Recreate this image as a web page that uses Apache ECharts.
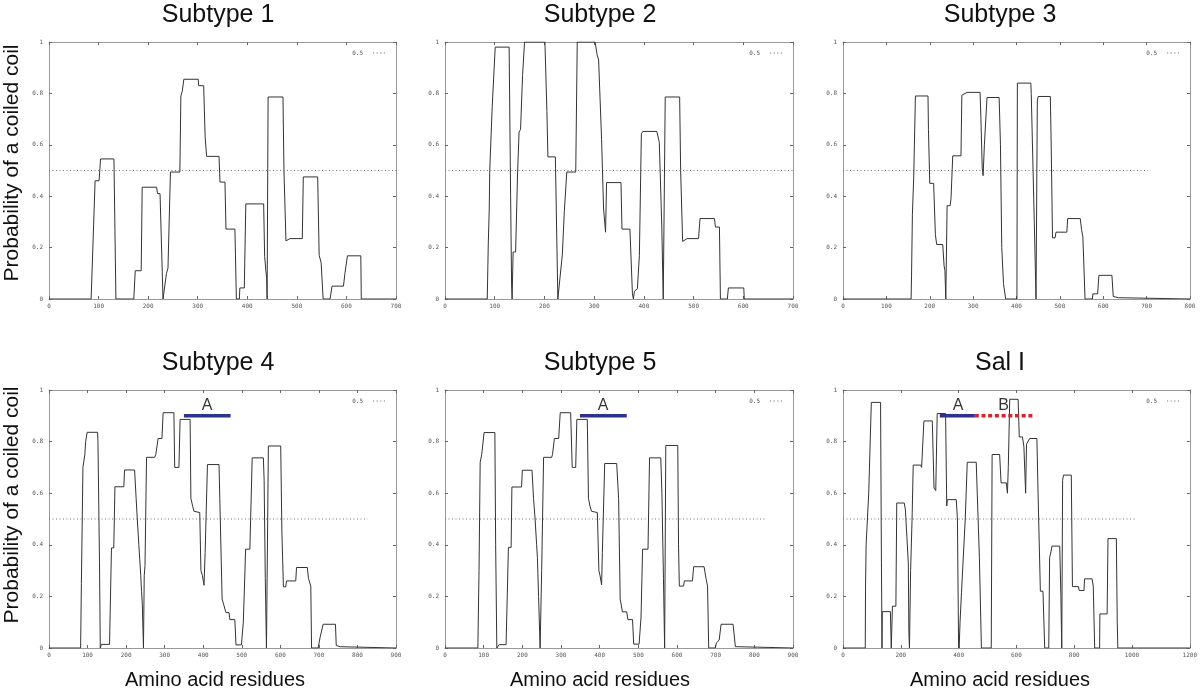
<!DOCTYPE html>
<html><head><meta charset="utf-8">
<script src="https://cdn.jsdelivr.net/npm/echarts@6/dist/echarts.min.js"></script>
<style>html,body{margin:0;padding:0;background:#fff}#c{width:1200px;height:692px}</style>
</head><body><div id="c"></div>
<script>
// ---------- data ----------
const panelTitles = ['Subtype 1', 'Subtype 2', 'Subtype 3', 'Subtype 4', 'Subtype 5', 'Sal I'];
const xAxisMax = [700, 700, 800, 900, 900, 1200];
const xAxisStep = [100, 100, 100, 100, 100, 200];
const yAxisTicks = [0, 0.2, 0.4, 0.6, 0.8, 1];
const xAxisTitle = 'Amino acid residues';
const yAxisTitle = 'Probability of a coiled coil';
const thresholdName = '0.5';
const thresholdValue = 0.5;
const thresholdEnd = [700, 700, 703, 827, 832, 1017];

const sub1Profile = [[0,0],[85,0],[93,0.46],[101,0.46],[104,0.545],[131,0.545],[135,0],
 [171,0],[174,0.11],[186,0.11],[188,0.435],[217,0.435],[219,0.41],[224,0.41],[230,0],
 [234,0],[237,0.1],[240,0.12],[245,0.494],[264,0.494],[266,0.79],[269,0.81],[272,0.855],[301,0.855],[302,0.83],[312,0.83],[315,0.63],[318,0.555],[343,0.555],[345,0.455],[355,0.455],[357,0.272],[375,0.272],[378,0],
 [384,0],[385,0.043],[394,0.043],[397,0.37],[433,0.37],[435,0.166],[439,0.08],[440,0],[442,0.786],[472,0.786],[474,0.5],[478,0.226],[486,0.235],[511,0.235],[513,0.475],[542,0.475],[545,0.17],[549,0.141],[553,0],
 [567,0],[571,0.05],[594,0.05],[597,0.1],[602,0.168],[629,0.168],[630,0],[700,0]];

const sub2Profile = [[0,0],[85,0],[87,0.21],[89,0.35],[90,0.5],[95,0.75],[101,0.98],[129,0.98],[132,0.4],[134,0.05],[135,0],[137,0.183],[142,0.183],[146,0.49],[149,0.65],[152,0.66],[156,0.87],[160,1],[201,1],[205,0.73],[207,0.553],[222,0.553],[227,0],
 [230,0],[236,0.172],[240,0.34],[245,0.494],[263,0.494],[266,1],[302,1],[306,0.95],[309,0.93],[315,0.62],[319,0.35],[323,0.26],[325,0.453],[354,0.453],[356,0.272],[372,0.272],[377,0.02],[379,0],
 [381,0.03],[387,0.04],[391,0.17],[395,0.643],[398,0.652],[426,0.652],[431,0.61],[436,0.288],[439,0],[443,0.786],[472,0.786],[474,0.5],[478,0.224],[487,0.235],[510,0.235],[513,0.313],[542,0.313],[544,0.28],[552,0.28],[554,0],
 [568,0],[570,0.043],[601,0.043],[602,0],[700,0]];

const sub3Profile = [[0,0],[157,0],[158,0.09],[160,0.33],[163,0.47],[167,0.79],[196,0.79],[197,0.66],[200,0.45],[209,0.45],[213,0.25],[216,0.212],[230,0.212],[233,0.13],[235,0.11],[237,0],
 [240,0.363],[247,0.363],[249,0.39],[253,0.557],[272,0.557],[274,0.793],[286,0.804],[316,0.804],[318,0.7],[321,0.51],[323,0.48],[326,0.6],[332,0.784],[360,0.784],[363,0.6],[366,0.2],[370,0.06],[375,0],
 [401,0],[402,0.84],[433,0.84],[434,0.8],[441,0.3],[445,0],[448,0.77],[450,0.788],[478,0.788],[480,0.6],[483,0.238],[489,0.238],[491,0.26],[516,0.26],[518,0.313],[547,0.313],[550,0.27],[553,0.242],[558,0],
 [575,0],[576,0.02],[587,0.02],[590,0.092],[620,0.092],[623,0.01],[626,0.005],[635,0.005],[636,0],[800,0]];

const sub4Profile = [[0,0],[82,0],[84,0.25],[88,0.7],[93,0.75],[95,0.8],[99,0.836],[126,0.836],[127,0.8],[131,0.33],[133,0],[136,0.014],[157,0.014],[162,0.388],[168,0.388],[171,0.625],[194,0.625],[196,0.69],[222,0.69],[226,0.58],[229,0.5],[233,0.4],[238,0.28],[240,0.22],[242,0.17],[245,0],
 [247,0.28],[249,0.32],[253,0.739],[274,0.739],[277,0.75],[283,0.812],[293,0.812],[296,0.912],[324,0.912],[326,0.7],[337,0.7],[340,0.886],[366,0.886],[368,0.58],[372,0.554],[376,0.53],[380,0.525],[391,0.525],[394,0.3],[398,0.28],[402,0.243],
 [405,0.37],[409,0.6],[411,0.711],[441,0.711],[443,0.58],[449,0.19],[459,0.137],[467,0.137],[469,0.11],[482,0.11],[485,0.012],[499,0.012],[504,0.1],[510,0.383],[521,0.383],[527,0.737],[556,0.737],[558,0.65],[561,0.27],[564,0],
 [569,0.783],[601,0.783],[604,0.45],[608,0.237],[614,0.237],[616,0.26],[640,0.26],[642,0.312],[670,0.312],[673,0.27],[679,0.24],[681,0],
 [698,0],[703,0.04],[711,0.092],[743,0.092],[745,0.01],[755,0.005],[756,0],[900,0]];

const sub5Profile = [[0,0],[85,0],[88,0.3],[91,0.72],[95,0.75],[101,0.835],[129,0.835],[131,0.4],[134,0],[140,0.013],[158,0.013],[164,0.39],[171,0.39],[173,0.624],[198,0.624],[200,0.689],[225,0.689],[229,0.58],[233,0.5],[237,0.4],[239,0.35],[242,0.2],[246,0],
 [250,0.3],[255,0.739],[276,0.739],[278,0.75],[283,0.812],[294,0.812],[298,0.912],[325,0.912],[329,0.7],[338,0.7],[341,0.886],[368,0.886],[371,0.58],[375,0.55],[379,0.53],[382,0.525],[394,0.525],[398,0.3],[401,0.28],[405,0.245],
 [407,0.37],[411,0.6],[413,0.715],[444,0.715],[449,0.58],[453,0.19],[459,0.14],[470,0.14],[473,0.11],[485,0.11],[488,0.015],[502,0.015],[507,0.12],[511,0.383],[525,0.383],[529,0.737],[558,0.737],[561,0.6],[565,0.27],[568,0],
 [571,0.785],[602,0.785],[604,0.4],[606,0.24],[617,0.24],[619,0.26],[640,0.26],[643,0.315],[670,0.315],[675,0.27],[679,0.24],[682,0],
 [699,0],[702,0.02],[709,0.03],[714,0.092],[745,0.092],[751,0.005],[758,0.005],[759,0],[900,0]];

const salProfile = [[0,0],[77,0],[78,0.24],[80,0.4],[89,0.6],[98,0.952],[130,0.952],[133,0.33],[135,0],[136,0.141],[164,0.141],[167,0],[171,0.162],[183,0.162],[186,0.562],[212,0.562],[216,0.535],[222,0.53],[226,0.33],[228,0.06],[230,0],
 [234,0.3],[239,0.5],[243,0.709],[269,0.709],[272,0.7],[280,0.88],[309,0.88],[315,0.62],[321,0.61],[326,0.909],[355,0.909],[359,0.55],[361,0.575],[392,0.575],[396,0.5],[400,0.01],[402,0],
 [405,0.1],[410,0.214],[415,0.22],[423,0.5],[430,0.72],[461,0.72],[472,0.35],[479,0],
 [513,0],[516,0.75],[542,0.75],[547,0.64],[565,0.64],[569,0.6],[572,0.7],[577,0.964],[606,0.964],[610,0.818],[621,0.818],[626,0.78],[632,0.6],[635,0.79],[646,0.812],[671,0.812],[675,0.6],[683,0.22],[692,0.22],[698,0],
 [712,0],[715,0.35],[721,0.38],[723,0.395],[750,0.395],[754,0.2],[757,0],[760,0.65],[763,0.67],[790,0.67],[794,0.238],[815,0.238],[817,0.223],[834,0.223],[836,0.268],[862,0.268],[866,0.24],[871,0],
 [888,0],[889,0.132],[914,0.132],[917,0.424],[946,0.424],[949,0.1],[951,0],[1200,0]];

// annotated regions (residue ranges) and their plotted level
const sub4RegionA = [350, 471];
const sub5RegionA = [349, 470];
const salRegionA = [335, 456];
const salRegionB = [456, 658];
const regionLevel = 0.9;
const regionLabelLevel = 0.94;
const sub4LabelsX = [410];
const sub5LabelsX = [409];
const salLabelsX = [398, 556];

// ---------- layout / style ----------
const profiles = [sub1Profile, sub2Profile, sub3Profile, sub4Profile, sub5Profile, salProfile];
const gridBoxes = [
  {left: 49, top: 42, width: 347, height: 257},
  {left: 445, top: 42, width: 348, height: 257},
  {left: 843, top: 42, width: 347, height: 257},
  {left: 49, top: 390, width: 347, height: 258},
  {left: 445, top: 390, width: 348, height: 258},
  {left: 843, top: 390, width: 347, height: 258}
];
const titlePos = [[218, 15], [600, 15], [1000, 15], [218, 363], [600, 363], [1000, 363]];
const FONT = '"Liberation Sans", Arial, Helvetica, sans-serif';
const TICKFONT = '"DejaVu Sans Mono", monospace';
const frameColor = '#999';
const tickColor = '#666';
const curveColor = '#333';
const dotColor = '#777';
const blue = '#2e3192';
const red = '#d8232a';
const dottedIcon = 'path://M0 0H1V1H0Z M3 0H4V1H3Z M6 0H7V1H6Z M9 0H10V1H9Z';

const grid = [], xAxis = [], yAxis = [], series = [], legend = [], graphic = [];
const plainNum = v => String(v);

profiles.forEach((prof, i) => {
  grid.push(Object.assign({containLabel: false, show: false}, gridBoxes[i]));
  const common = {
    type: 'value', gridIndex: i, splitLine: {show: false},
    axisLine: {show: true, onZero: false, lineStyle: {color: frameColor, width: 1}},
    axisTick: {show: true, inside: true, length: 3, lineStyle: {color: tickColor}}
  };
  xAxis.push(Object.assign({}, common, {
    position: 'bottom', min: 0, max: xAxisMax[i], interval: xAxisStep[i],
    axisLabel: {show: true, fontSize: 6, color: '#555', fontFamily: TICKFONT, margin: 4, formatter: plainNum}
  }));
  xAxis.push(Object.assign({}, common, {
    position: 'top', min: 0, max: xAxisMax[i], interval: xAxisStep[i], axisLabel: {show: false}
  }));
  yAxis.push(Object.assign({}, common, {
    position: 'left', min: yAxisTicks[0], max: yAxisTicks[yAxisTicks.length - 1], interval: yAxisTicks[1] - yAxisTicks[0],
    axisLabel: {show: true, fontSize: 6, color: '#555', fontFamily: TICKFONT, margin: 6, formatter: plainNum}
  }));
  yAxis.push(Object.assign({}, common, {
    position: 'right', min: yAxisTicks[0], max: yAxisTicks[yAxisTicks.length - 1], interval: yAxisTicks[1] - yAxisTicks[0],
    axisLabel: {show: false}
  }));

  series.push({
    type: 'line', xAxisIndex: 2 * i, yAxisIndex: 2 * i, data: prof,
    symbol: 'none', silent: true, z: 3,
    itemStyle: {color: curveColor},
    lineStyle: {color: curveColor, width: 1}
  });
  series.push({
    name: thresholdName, type: 'line', xAxisIndex: 2 * i, yAxisIndex: 2 * i,
    data: [[0, thresholdValue], [thresholdEnd[i], thresholdValue]],
    symbol: 'none', silent: true, z: 2,
    itemStyle: {color: dotColor},
    lineStyle: {color: dotColor, width: 1, type: [1, 2.5]}
  });

  const b = gridBoxes[i];
  legend.push({
    data: [{name: thresholdName, icon: dottedIcon}], right: 1200 - (b.left + b.width) + 6, top: b.top + 3,
    align: 'right', itemWidth: 12, itemHeight: 1.2, selectedMode: false,
    itemStyle: {color: dotColor},
    textStyle: {fontSize: 6, color: '#555', fontFamily: TICKFONT, padding: [0, 5, 0, 0]}
  });

  graphic.push({
    type: 'text', x: titlePos[i][0], y: titlePos[i][1],
    style: {text: panelTitles[i], font: '25px ' + FONT, fill: '#111', textAlign: 'center', textVerticalAlign: 'middle'}
  });
});

function regionSeries(panel, range, color, dashed) {
  return {
    type: 'line', xAxisIndex: 2 * panel, yAxisIndex: 2 * panel,
    data: [[range[0], regionLevel], [range[1], regionLevel]],
    symbol: 'none', silent: true, z: 5,
    lineStyle: {color: color, width: 3.5, type: dashed ? [4, 2.7] : 'solid', cap: 'butt'}
  };
}
function labelSeries(panel, xs, names) {
  return {
    type: 'scatter', xAxisIndex: 2 * panel, yAxisIndex: 2 * panel, symbolSize: 1, z: 6, silent: true,
    itemStyle: {color: 'rgba(0,0,0,0)'},
    data: xs.map((x, k) => ({name: names[k], value: [x, regionLabelLevel]})),
    label: {show: true, position: 'inside', formatter: '{b}', fontSize: 16, color: '#000', fontFamily: FONT}
  };
}
series.push(regionSeries(3, sub4RegionA, blue, false));
series.push(labelSeries(3, sub4LabelsX, ['A']));
series.push(regionSeries(4, sub5RegionA, blue, false));
series.push(labelSeries(4, sub5LabelsX, ['A']));
series.push(regionSeries(5, salRegionA, blue, false));
series.push(regionSeries(5, salRegionB, red, true));
series.push(labelSeries(5, salLabelsX, ['A', 'B']));

// axis titles
[[215, 680], [600, 680], [1000, 680]].forEach(p => graphic.push({
  type: 'text', x: p[0], y: p[1],
  style: {text: xAxisTitle, font: '20px ' + FONT, fill: '#111', textAlign: 'center', textVerticalAlign: 'middle'}
}));
[[12, 163], [12, 505]].forEach(p => graphic.push({
  type: 'text', x: p[0], y: p[1], rotation: Math.PI / 2,
  style: {text: yAxisTitle, font: '21px ' + FONT, fill: '#111', textAlign: 'center', textVerticalAlign: 'middle'}
}));

const chart = echarts.init(document.getElementById('c'), null, {renderer: 'canvas'});
chart.setOption({
  animation: false, backgroundColor: '#fff',
  grid, xAxis, yAxis, series, legend, graphic
});
</script></body></html>
